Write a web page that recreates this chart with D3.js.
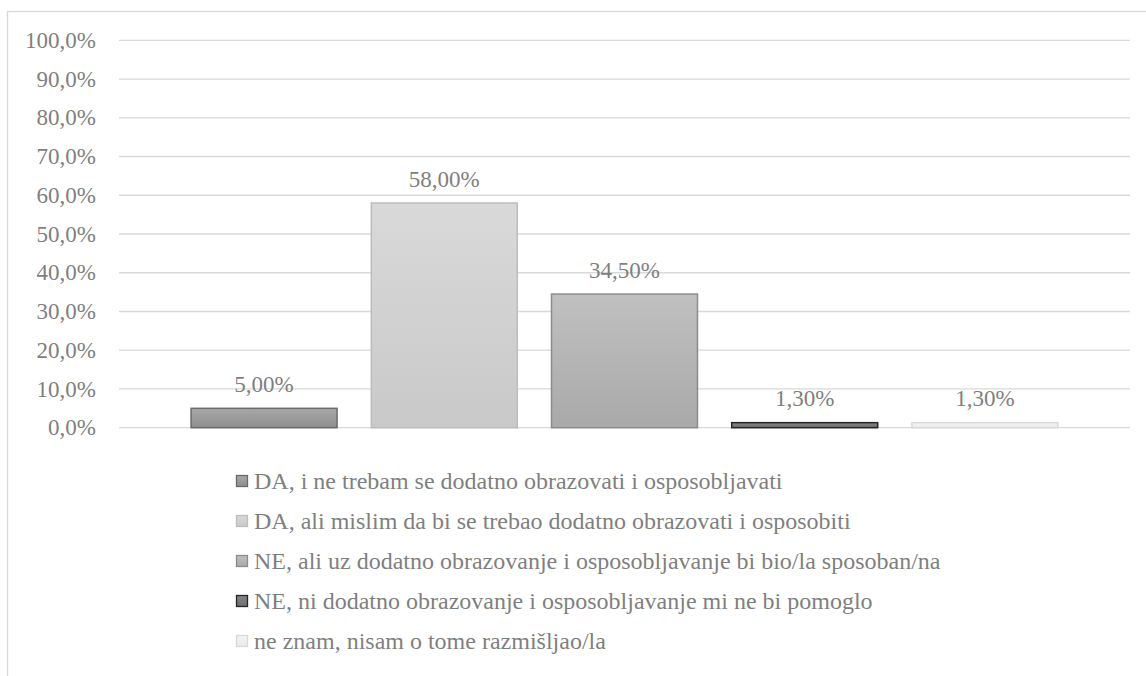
<!DOCTYPE html>
<html>
<head>
<meta charset="utf-8">
<script src="https://cdn.jsdelivr.net/npm/d3@7"></script>
</head>
<body style="margin:0">
<svg id="chart" width="1146" height="676"></svg>
<script>
const categories = [
  "DA, i ne trebam se dodatno obrazovati i osposobljavati",
  "DA, ali mislim da bi se trebao dodatno obrazovati i osposobiti",
  "NE, ali uz dodatno obrazovanje i osposobljavanje bi bio/la sposoban/na",
  "NE, ni dodatno obrazovanje i osposobljavanje mi ne bi pomoglo",
  "ne znam, nisam o tome razmišljao/la"
];
const values = [5.0, 58.0, 34.5, 1.3, 1.3];
const valueLabels = ["5,00%", "58,00%", "34,50%", "1,30%", "1,30%"];
const yTicks = [0, 10, 20, 30, 40, 50, 60, 70, 80, 90, 100];
const fillTop = ["#a8a8a8", "#d9d9d9", "#c0c0c0", "#858585", "#f3f3f3"];
const fillBottom = ["#8e8e8e", "#c9c9c9", "#a9a9a9", "#6e6e6e", "#ebebeb"];
const strokes = ["#6a6a6a", "#bdbdbd", "#8c8c8c", "#262626", "#d9d9d9"];

const svg = d3.select("#chart");
const textColor = "#7f7f7f";
const FONT = '"Liberation Serif", "Times New Roman", Tinos, serif';

// chart border
svg.append("rect").attr("x", 7.5).attr("y", 11.5).attr("width", 1160).attr("height", 700)
  .attr("fill", "none").attr("stroke", "#d9d9d9").attr("stroke-width", 1.3);

const defs = svg.append("defs");
values.forEach((v, i) => {
  const g = defs.append("linearGradient").attr("id", "g" + i)
    .attr("x1", 0).attr("y1", 0).attr("x2", 0).attr("y2", 1);
  g.append("stop").attr("offset", "0%").attr("stop-color", fillTop[i]);
  g.append("stop").attr("offset", "100%").attr("stop-color", fillBottom[i]);
});

const y = d3.scaleLinear().domain([0, 100]).range([427.7, 40.3]);
const x = d3.scaleBand().domain(d3.range(categories.length)).range([119, 1130])
  .paddingInner(0.19).paddingOuter(0.4);

// gridlines
svg.append("g").selectAll("line").data(yTicks).join("line")
  .attr("x1", 119).attr("x2", 1130)
  .attr("y1", d => y(d)).attr("y2", d => y(d))
  .attr("stroke", "#d9d9d9").attr("stroke-width", 1.3);

function styleText(sel, size) {
  sel.style("font-family", FONT).style("font-size", size + "px").attr("fill", textColor);
}

// y tick labels
svg.append("g").selectAll("text").data(yTicks).join("text")
  .attr("x", 96).attr("y", d => y(d) + 7.6)
  .attr("text-anchor", "end")
  .call(styleText, 23)
  .text(d => d3.format(".1f")(d).replace(".", ",") + "%");

// bars
svg.append("g").selectAll("rect").data(values).join("rect")
  .attr("x", (d, i) => x(i))
  .attr("y", d => y(d))
  .attr("width", x.bandwidth())
  .attr("height", d => y(0) - y(d))
  .attr("fill", (d, i) => `url(#g${i})`)
  .attr("stroke", (d, i) => strokes[i])
  .attr("stroke-width", 1.5);

// value labels
svg.append("g").selectAll("text").data(values).join("text")
  .attr("x", (d, i) => x(i) + x.bandwidth() / 2)
  .attr("y", d => y(d) - 16.5)
  .attr("text-anchor", "middle")
  .call(styleText, 23)
  .text((d, i) => valueLabels[i]);

// legend
const legend = svg.append("g");
const rowY = [481, 521, 561, 601, 641];
categories.forEach((c, i) => {
  legend.append("rect")
    .attr("x", 236.5).attr("y", rowY[i] - 5.5).attr("width", 11).attr("height", 11)
    .attr("fill", `url(#g${i})`).attr("stroke", strokes[i]).attr("stroke-width", 1.3);
  legend.append("text")
    .attr("x", 254).attr("y", rowY[i] + 8)
    .call(styleText, 24)
    .text(c);
});
</script>
</body>
</html>
